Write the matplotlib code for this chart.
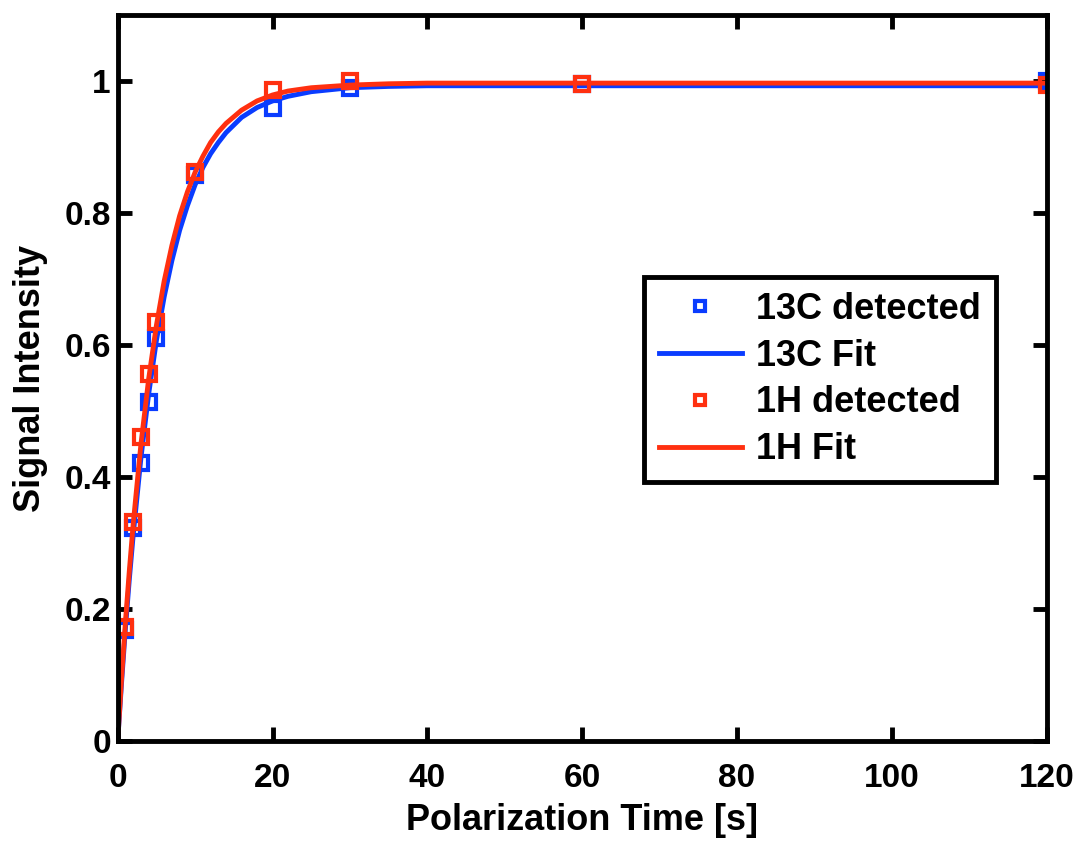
import matplotlib
matplotlib.use("Agg")
import matplotlib.pyplot as plt
from matplotlib.ticker import FixedLocator

# measured points
t_data = [1, 2, 3, 4, 5, 10, 20, 30, 60, 120]
c13_data = [0.168, 0.322, 0.422, 0.514, 0.610, 0.858, 0.959, 0.989, 0.995, 1.000]
h1_data = [0.173, 0.332, 0.460, 0.556, 0.635, 0.862, 0.987, 1.000, 0.995, 0.994]

# fit curves
t_fit = [0, 0.5, 1, 1.5, 2, 3, 4, 5, 6, 7, 8, 9, 10, 11, 12, 13, 14, 16, 18,
         20, 22, 25, 30, 35, 40, 60, 80, 100, 120]
c13_fit = [0, 0.089, 0.171, 0.245, 0.312, 0.429, 0.526, 0.607, 0.673, 0.728,
           0.774, 0.811, 0.843, 0.869, 0.890, 0.907, 0.922, 0.945, 0.960,
           0.970, 0.977, 0.984, 0.990, 0.992, 0.993, 0.993, 0.993, 0.993,
           0.993]
h1_fit = [0, 0.095, 0.181, 0.258, 0.329, 0.450, 0.549, 0.630, 0.697, 0.751,
          0.796, 0.832, 0.862, 0.886, 0.907, 0.923, 0.936, 0.956, 0.970,
          0.979, 0.985, 0.990, 0.994, 0.996, 0.997, 0.997, 0.997, 0.997,
          0.997]

blue = "#0a3cff"
red = "#ff3010"

plt.rcParams["font.family"] = ["Liberation Sans", "DejaVu Sans"]
plt.rcParams["font.weight"] = "bold"

fig = plt.figure(figsize=(10.8, 8.42), dpi=100)
ax = fig.add_axes([0.109, 0.12, 0.86, 0.862])

ax.plot(t_data, c13_data, "s", ms=10.5, mfc="none", mec=blue, mew=3,
        label="13C detected")
ax.plot(t_fit, c13_fit, "-", color=blue, lw=3.5, label="13C Fit")
ax.plot(t_data, h1_data, "s", ms=10.5, mfc="none", mec=red, mew=3,
        label="1H detected")
ax.plot(t_fit, h1_fit, "-", color=red, lw=3.5, label="1H Fit")

ax.set_xlim(0, 120)
ax.set_ylim(0, 1.1)
ax.xaxis.set_major_locator(FixedLocator([0, 20, 40, 60, 80, 100, 120]))
ax.yaxis.set_major_locator(FixedLocator([0, 0.2, 0.4, 0.6, 0.8, 1.0]))
ax.set_yticklabels(["0", "0.2", "0.4", "0.6", "0.8", "1"])
ax.tick_params(direction="in", length=10, width=3.5, top=True, right=True,
               labelsize=24)
ax.tick_params(axis="x", pad=16)
ax.tick_params(axis="y", pad=5)
for s in ax.spines.values():
    s.set_linewidth(3.5)

ax.set_xlabel("Polarization Time [s]", fontsize=26, fontweight="bold",
              labelpad=6)
ax.set_ylabel("Signal Intensity", fontsize=26, fontweight="bold",
              labelpad=12)

leg = ax.legend(loc="upper left", bbox_to_anchor=(0.567, 0.639),
                fontsize=26, fancybox=False, edgecolor="black",
                handlelength=2.3, markerscale=0.7, borderpad=0.4,
                labelspacing=0.33, handletextpad=0.4, borderaxespad=0)
leg.get_frame().set_linewidth(3.5)
leg.get_frame().set_alpha(1)

fig.savefig("out.png", dpi=100)
